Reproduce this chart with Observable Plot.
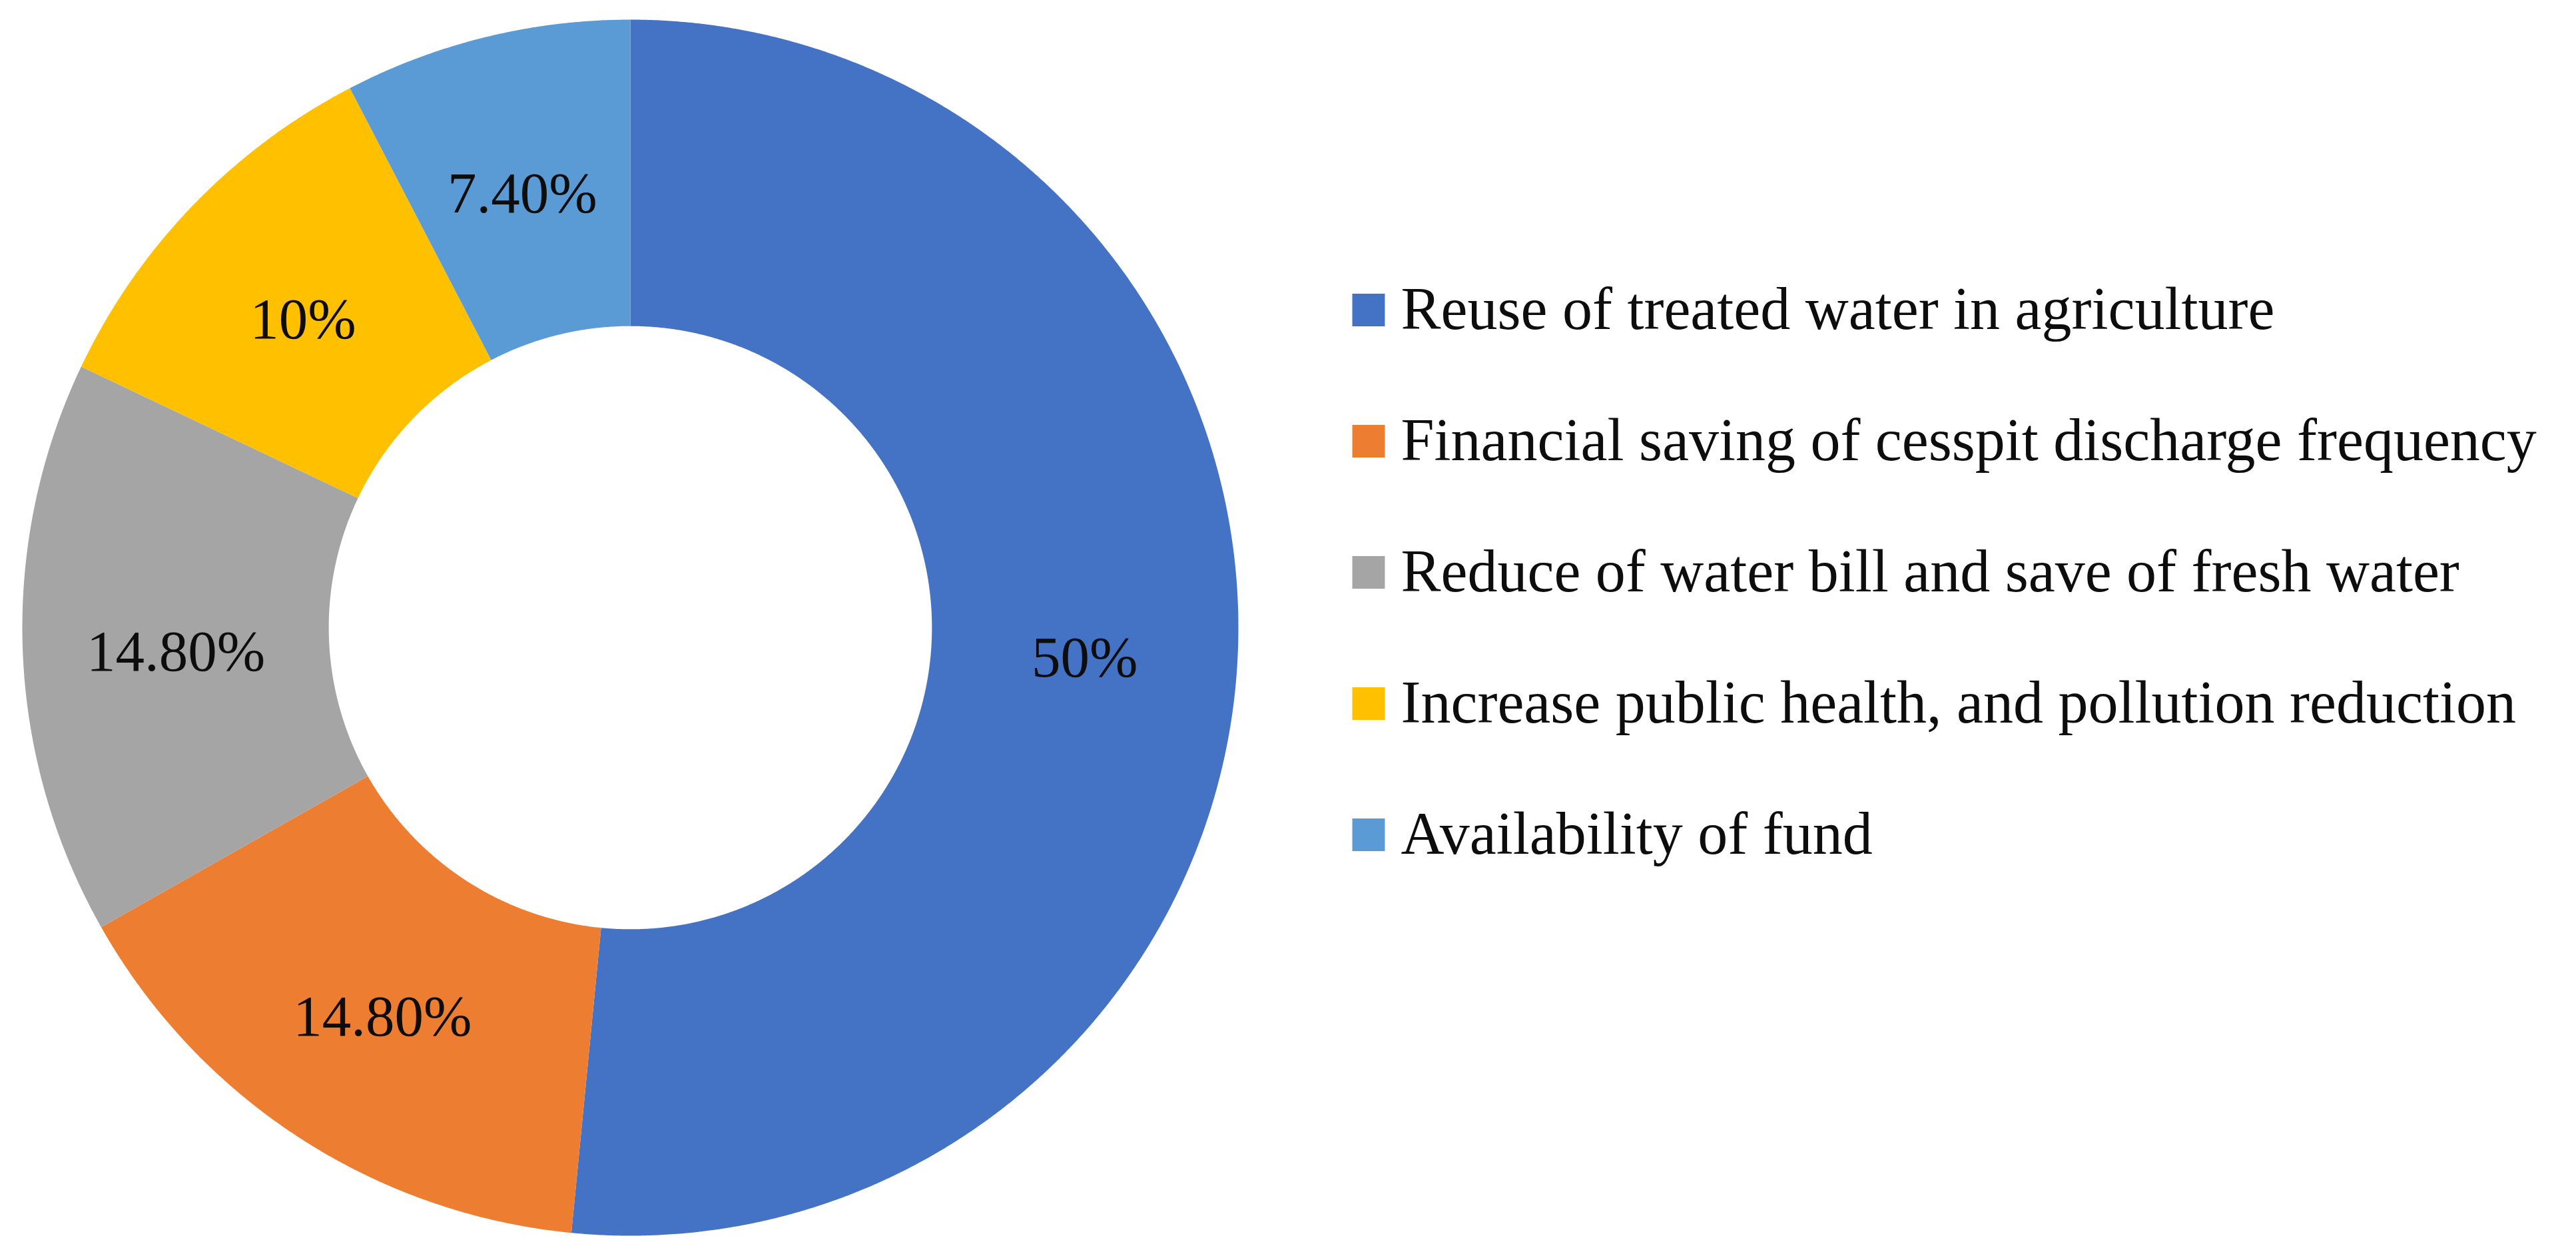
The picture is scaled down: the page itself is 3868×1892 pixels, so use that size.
<!DOCTYPE html>
<html><head><meta charset="utf-8">
<script src="https://cdn.jsdelivr.net/npm/d3@7"></script>
<script src="https://cdn.jsdelivr.net/npm/@observablehq/plot@0.6"></script>
<style>
html,body{margin:0;padding:0;background:#fff;}
#wrap{display:flex;flex-direction:row;width:3868px;height:1892px;overflow:hidden;}
#wrap svg{display:block;flex:none;overflow:visible;}
</style></head><body><div id="wrap"></div>
<script>
const categories = [
  "Reuse of treated water in agriculture",
  "Financial saving of cesspit discharge frequency",
  "Reduce of water bill and save of fresh water",
  "Increase public health, and pollution reduction",
  "Availability of fund"
];
const values = [50, 14.8, 14.8, 10, 7.4];
const labels = ["50%", "14.80%", "14.80%", "10%", "7.40%"];
const colors = ["#4472C4", "#ED7D31", "#A5A5A5", "#FFC000", "#5B9BD5"];

// layout
const W1 = 1960, H = 1892, cx = 946, cy = 942, R = 913, innerRatio = 0.496;
const FONT = "'Liberation Serif', 'Times New Roman', serif";
const TEXT = "#0d0d0d";

const arcs = d3.pie().sort(null).value(d => d)(values);
const ring = [];
const cent = [];
arcs.forEach((s, i) => {
  const n = Math.max(2, Math.ceil((s.endAngle - s.startAngle) / (Math.PI / 720)));
  for (let k = 0; k <= n; k++) {
    const a = s.startAngle + (s.endAngle - s.startAngle) * k / n;
    ring.push({cat: categories[i], x: Math.sin(a), y: Math.cos(a)});
  }
  for (let k = n; k >= 0; k--) {
    const a = s.startAngle + (s.endAngle - s.startAngle) * k / n;
    ring.push({cat: categories[i], x: innerRatio * Math.sin(a), y: innerRatio * Math.cos(a)});
  }
  const m = (s.startAngle + s.endAngle) / 2, rm = (1 + innerRatio) / 2;
  cent.push({cat: categories[i], label: labels[i], x: rm * Math.sin(m), y: rm * Math.cos(m)});
});

const color = {domain: categories, range: colors};

const donut = Plot.plot({
  width: W1, height: H, margin: 0,
  x: {domain: [-cx / R, (W1 - cx) / R], range: [0, W1], axis: null},
  y: {domain: [-(H - cy) / R, cy / R], range: [H, 0], axis: null},
  color,
  marks: [
    Plot.line(ring, {x: "x", y: "y", z: "cat", fill: "cat", stroke: "none", curve: "linear"}),
    Plot.text(cent, {x: "x", y: "y", text: "label", fontSize: 87, fontFamily: FONT, fill: TEXT, dy: 12})
  ]
});

const legend = Plot.plot({
  width: 3868 - W1, height: H, margin: 0,
  x: {axis: null},
  y: {type: "point", domain: categories, range: [464, 1254], padding: 0, axis: null},
  color,
  marks: [
    Plot.dot(categories, {y: d => d, fill: d => d, symbol: "square", r: 27.6, frameAnchor: "left", dx: 94.5, stroke: "none"}),
    Plot.text(categories, {y: d => d, text: d => d, frameAnchor: "left", dx: 143, textAnchor: "start", fontSize: 90, fontFamily: FONT, fill: TEXT})
  ]
});

document.getElementById("wrap").append(donut, legend);
</script></body></html>
